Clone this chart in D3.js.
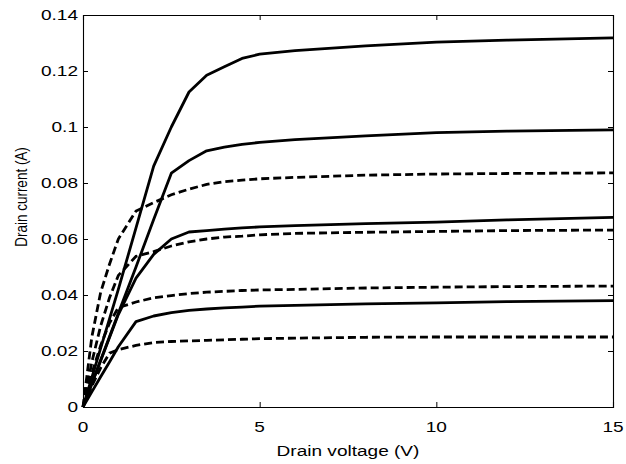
<!DOCTYPE html>
<html>
<head>
<meta charset="utf-8">
<script src="https://cdn.jsdelivr.net/npm/d3@7"></script>
<style>
  html, body { margin: 0; padding: 0; background: #fff; }
  svg { display: block; font-family: "Liberation Sans", Arial, sans-serif; }
</style>
</head>
<body>
<svg id="chart" width="626" height="464"></svg>
<script>
// Drain voltage samples (V)
const vds = [0, 0.25, 0.5, 0.75, 1, 1.5, 2, 2.5, 3, 3.5, 4, 4.5, 5, 6, 8, 10, 12, 15];

// Drain current (A), solid curves
const solid1 = [0, 0.0105, 0.021, 0.0315, 0.042, 0.064, 0.086, 0.1, 0.1125, 0.1185, 0.1215, 0.1245, 0.126, 0.1273, 0.129, 0.1303, 0.131, 0.1318];
const solid2 = [0, 0.0084, 0.0168, 0.0251, 0.0335, 0.050, 0.067, 0.0835, 0.088, 0.0915, 0.0928, 0.0938, 0.0945, 0.0955, 0.0968, 0.098, 0.0985, 0.099];
const solid3 = [0, 0.0083, 0.0165, 0.0248, 0.033, 0.046, 0.0545, 0.060, 0.0625, 0.063, 0.0635, 0.064, 0.0643, 0.0648, 0.0655, 0.066, 0.0668, 0.0677];
const solid4 = [0, 0.0054, 0.0108, 0.0161, 0.0215, 0.0305, 0.0325, 0.0337, 0.0345, 0.035, 0.0354, 0.0357, 0.036, 0.0363, 0.0368, 0.0372, 0.0376, 0.038];

// Drain current (A), dashed curves
const dashed1 = [0, 0.025, 0.041, 0.051, 0.060, 0.070, 0.073, 0.0758, 0.0778, 0.0795, 0.0805, 0.081, 0.0815, 0.082, 0.0828, 0.0832, 0.0834, 0.0836];
const dashed2 = [0, 0.016, 0.029, 0.039, 0.047, 0.0538, 0.0555, 0.0575, 0.059, 0.060, 0.0607, 0.061, 0.0615, 0.062, 0.0624, 0.0627, 0.063, 0.0632];
const dashed3 = [0, 0.012, 0.022, 0.030, 0.0355, 0.0375, 0.039, 0.0398, 0.0405, 0.041, 0.0413, 0.0416, 0.0418, 0.042, 0.0425, 0.0428, 0.043, 0.0432];
const dashed4 = [0, 0.0075, 0.014, 0.0192, 0.0205, 0.022, 0.023, 0.0234, 0.0236, 0.0238, 0.024, 0.0242, 0.0244, 0.0246, 0.0249, 0.025, 0.025, 0.025];

// Axis ticks
const xTicks = [0, 5, 10, 15];
const xTickLabels = ["0", "5", "10", "15"];
const yTicks = [0, 0.02, 0.04, 0.06, 0.08, 0.1, 0.12, 0.14];
const yTickLabels = ["0", "0.02", "0.04", "0.06", "0.08", "0.1", "0.12", "0.14"];

const svg = d3.select("#chart");
const margin = { left: 83, right: 13, top: 15, bottom: 57 };
const W = 626, H = 464;
const stretch = 1.27;   // horizontal widening of the lettering

const x = d3.scaleLinear().domain([0, 15]).range([margin.left, W - margin.right]);
const y = d3.scaleLinear().domain([0, 0.14]).range([H - margin.bottom, margin.top]);

const line = d3.line()
  .x(d => x(d[0]))
  .y(d => y(d[1]));

const solids = [solid1, solid2, solid3, solid4];
const dashes = [dashed1, dashed2, dashed3, dashed4];

const plot = svg.append("g");

plot.selectAll("path.dashed")
  .data(dashes)
  .join("path")
  .attr("class", "dashed")
  .attr("d", s => line(vds.map((v, i) => [v, s[i]])))
  .attr("fill", "none")
  .attr("stroke", "#000")
  .attr("stroke-width", 2.8)
  .attr("stroke-dasharray", "8,4");

plot.selectAll("path.solid")
  .data(solids)
  .join("path")
  .attr("class", "solid")
  .attr("d", s => line(vds.map((v, i) => [v, s[i]])))
  .attr("fill", "none")
  .attr("stroke", "#000")
  .attr("stroke-width", 2.8)
  .attr("stroke-linejoin", "round");

// Axes: ticks pointing inward on all four sides
const tick = 5;
svg.append("g")
  .attr("transform", `translate(0,${H - margin.bottom})`)
  .call(d3.axisBottom(x).tickValues(xTicks).tickSize(-tick).tickFormat(""));
svg.append("g")
  .attr("transform", `translate(0,${margin.top})`)
  .call(d3.axisTop(x).tickValues(xTicks).tickSize(-tick).tickFormat(""));
svg.append("g")
  .attr("transform", `translate(${margin.left},0)`)
  .call(d3.axisLeft(y).tickValues(yTicks).tickSize(-tick).tickFormat(""));
svg.append("g")
  .attr("transform", `translate(${W - margin.right},0)`)
  .call(d3.axisRight(y).tickValues(yTicks).tickSize(-tick).tickFormat(""));

svg.selectAll(".domain").attr("stroke", "#000").attr("stroke-width", 1.1);
svg.selectAll(".tick line").attr("stroke", "#000");

// Tick labels
svg.append("g")
  .selectAll("text")
  .data(xTicks)
  .join("text")
  .attr("transform", d => `translate(${x(d)},432) scale(${stretch},1)`)
  .attr("text-anchor", "middle")
  .style("font-size", "15px")
  .text((d, i) => xTickLabels[i]);

svg.append("g")
  .selectAll("text")
  .data(yTicks)
  .join("text")
  .attr("transform", d => `translate(${margin.left - 5},${y(d) + 5.3}) scale(${stretch},1)`)
  .attr("text-anchor", "end")
  .style("font-size", "15px")
  .text((d, i) => yTickLabels[i]);

// Axis titles
svg.append("text")
  .attr("transform", `translate(${(margin.left + W - margin.right) / 2},456) scale(${stretch},1)`)
  .attr("text-anchor", "middle")
  .style("font-size", "15px")
  .text("Drain voltage (V)");

svg.append("text")
  .attr("transform", `translate(27,197) scale(${stretch},1) rotate(-90)`)
  .attr("text-anchor", "middle")
  .style("font-size", "13.5px")
  .text("Drain current (A)");
</script>
</body>
</html>
